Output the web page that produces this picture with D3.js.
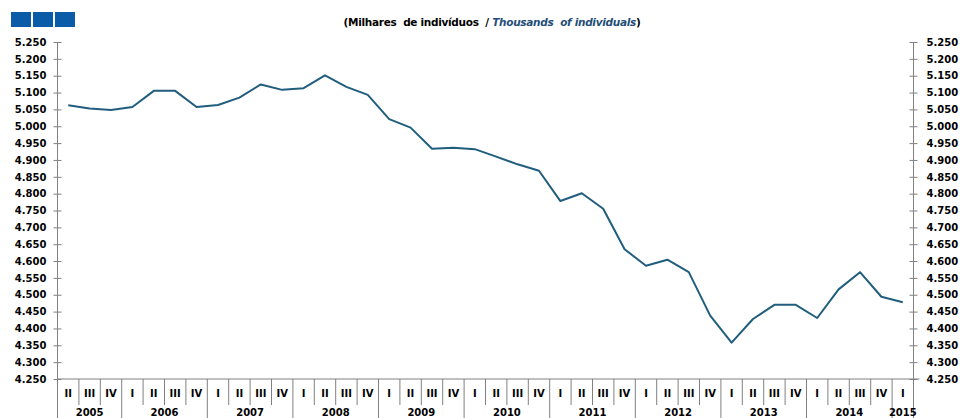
<!DOCTYPE html>
<html>
<head>
<meta charset="utf-8">
<script src="https://cdn.jsdelivr.net/npm/d3@7"></script>
<style>
  body { margin: 0; background: #fff; }
  svg text { font-family: "DejaVu Sans", sans-serif; font-weight: bold; }
</style>
</head>
<body>
<div id="chart"></div>
<script>
// quarters shown on the x axis (2005 Q2 .. 2015 Q1)
const years = ['2005', '2006', '2007', '2008', '2009', '2010', '2011', '2012', '2013', '2014', '2015'];
const quarterNames = ['I', 'II', 'III', 'IV'];
const firstQuarter = 1; // 2005 starts at II
const quarterCount = 40;

// employed population, thousands of individuals
const employed = [
  5062, 5053, 5048, 5057,
  5105, 5105, 5057, 5063,
  5085, 5124, 5108, 5113,
  5151, 5117, 5093, 5021,
  4996, 4933, 4936, 4932,
  4910, 4887, 4868, 4778,
  4801, 4755, 4635, 4586,
  4604, 4567, 4438, 4358,
  4428, 4470, 4470, 4431,
  4516, 4567, 4494, 4478
];

const yTicks = d3.range(4250, 5251, 50);

const width = 960, height = 418;
const plot = { left: 57.5, right: 913.5, top: 42, bottom: 379 };

const periods = d3.range(quarterCount).map(i => {
  const q = firstQuarter + i;
  return { i, year: years[Math.floor(q / 4)], quarter: quarterNames[q % 4] };
});

const svg = d3.select('#chart').append('svg')
  .attr('width', width)
  .attr('height', height);

const x = d3.scaleBand()
  .domain(periods.map(d => d.i))
  .range([plot.left, plot.right])
  .padding(0);

const y = d3.scaleLinear()
  .domain([4250, 5250])
  .range([plot.bottom, plot.top]);

const fmt = d3.formatLocale({ decimal: ',', thousands: '.', grouping: [3], currency: ['', ''] }).format(',');

// header blocks
svg.selectAll('rect.block')
  .data([0, 1, 2])
  .join('rect')
  .attr('class', 'block')
  .attr('x', d => 11 + d * 22)
  .attr('y', 12)
  .attr('width', 20)
  .attr('height', 15)
  .attr('fill', '#0b5ca8');

// title (double spaces kept as in the source)
const title = svg.append('text')
  .attr('x', 492)
  .attr('y', 26)
  .attr('text-anchor', 'middle')
  .style('font-size', '10.5px')
  .style('letter-spacing', '-0.3px')
  .style('white-space', 'pre')
  .attr('fill', '#000');
title.append('tspan').text('(Milhares  de indivíduos  / ');
title.append('tspan').attr('font-style', 'italic').attr('fill', '#1f4e79').text('Thousands  of individuals');
title.append('tspan').text(')');

const axisColor = '#808080';

// left axis
const yLeft = d3.axisLeft(y).tickValues(yTicks).tickFormat(fmt).tickSizeInner(4).tickSizeOuter(0).tickPadding(7);
const gl = svg.append('g').attr('transform', `translate(${plot.left},0)`).call(yLeft);
gl.select('.domain').remove();
gl.selectAll('.tick line').attr('x1', -4).attr('x2', 4).attr('stroke', axisColor);

// right axis
const yRight = d3.axisRight(y).tickValues(yTicks).tickFormat(fmt).tickSizeInner(4).tickSizeOuter(0).tickPadding(9);
const gr = svg.append('g').attr('transform', `translate(${plot.right},0)`).call(yRight);
gr.select('.domain').remove();
gr.selectAll('.tick line').attr('x1', -4).attr('x2', 4).attr('stroke', axisColor);

svg.selectAll('.tick text')
  .attr('fill', '#000')
  .style('font-size', '10px')
  .style('font-family', '"DejaVu Sans", sans-serif')
  .style('font-weight', 'bold');

// vertical axis lines
svg.append('line').attr('x1', plot.left).attr('x2', plot.left).attr('y1', plot.top).attr('y2', height)
  .attr('stroke', axisColor);
svg.append('line').attr('x1', plot.right).attr('x2', plot.right).attr('y1', plot.top).attr('y2', height)
  .attr('stroke', axisColor);

// bottom axis line
svg.append('line').attr('x1', plot.left).attr('x2', plot.right + 6).attr('y1', plot.bottom).attr('y2', plot.bottom)
  .attr('stroke', axisColor);

// quarter separators (longer at year boundaries)
const bw = x.bandwidth();
svg.selectAll('line.sep')
  .data(periods.slice(1))
  .join('line')
  .attr('class', 'sep')
  .attr('x1', d => x(d.i))
  .attr('x2', d => x(d.i))
  .attr('y1', plot.bottom)
  .attr('y2', d => d.quarter === 'I' ? height : 405)
  .attr('stroke', axisColor);

// quarter labels
svg.selectAll('text.q')
  .data(periods)
  .join('text')
  .attr('class', 'q')
  .attr('x', d => x(d.i) + bw / 2)
  .attr('y', 397)
  .attr('text-anchor', 'middle')
  .style('font-size', '10px')
  .text(d => d.quarter);

// year labels
const yearSpans = d3.rollups(periods, v => [d3.min(v, d => d.i), d3.max(v, d => d.i)], d => d.year);
svg.selectAll('text.yr')
  .data(yearSpans)
  .join('text')
  .attr('class', 'yr')
  .attr('x', d => (x(d[1][0]) + x(d[1][1]) + bw) / 2)
  .attr('y', 416)
  .attr('text-anchor', 'middle')
  .style('font-size', '10px')
  .text(d => d[0]);

// series line
const line = d3.line()
  .x((d, i) => x(i) + bw / 2)
  .y(d => y(d));

svg.append('path')
  .datum(employed)
  .attr('fill', 'none')
  .attr('stroke', '#215e7e')
  .attr('stroke-width', 2)
  .attr('stroke-linejoin', 'round')
  .attr('d', line);
</script>
</body>
</html>
